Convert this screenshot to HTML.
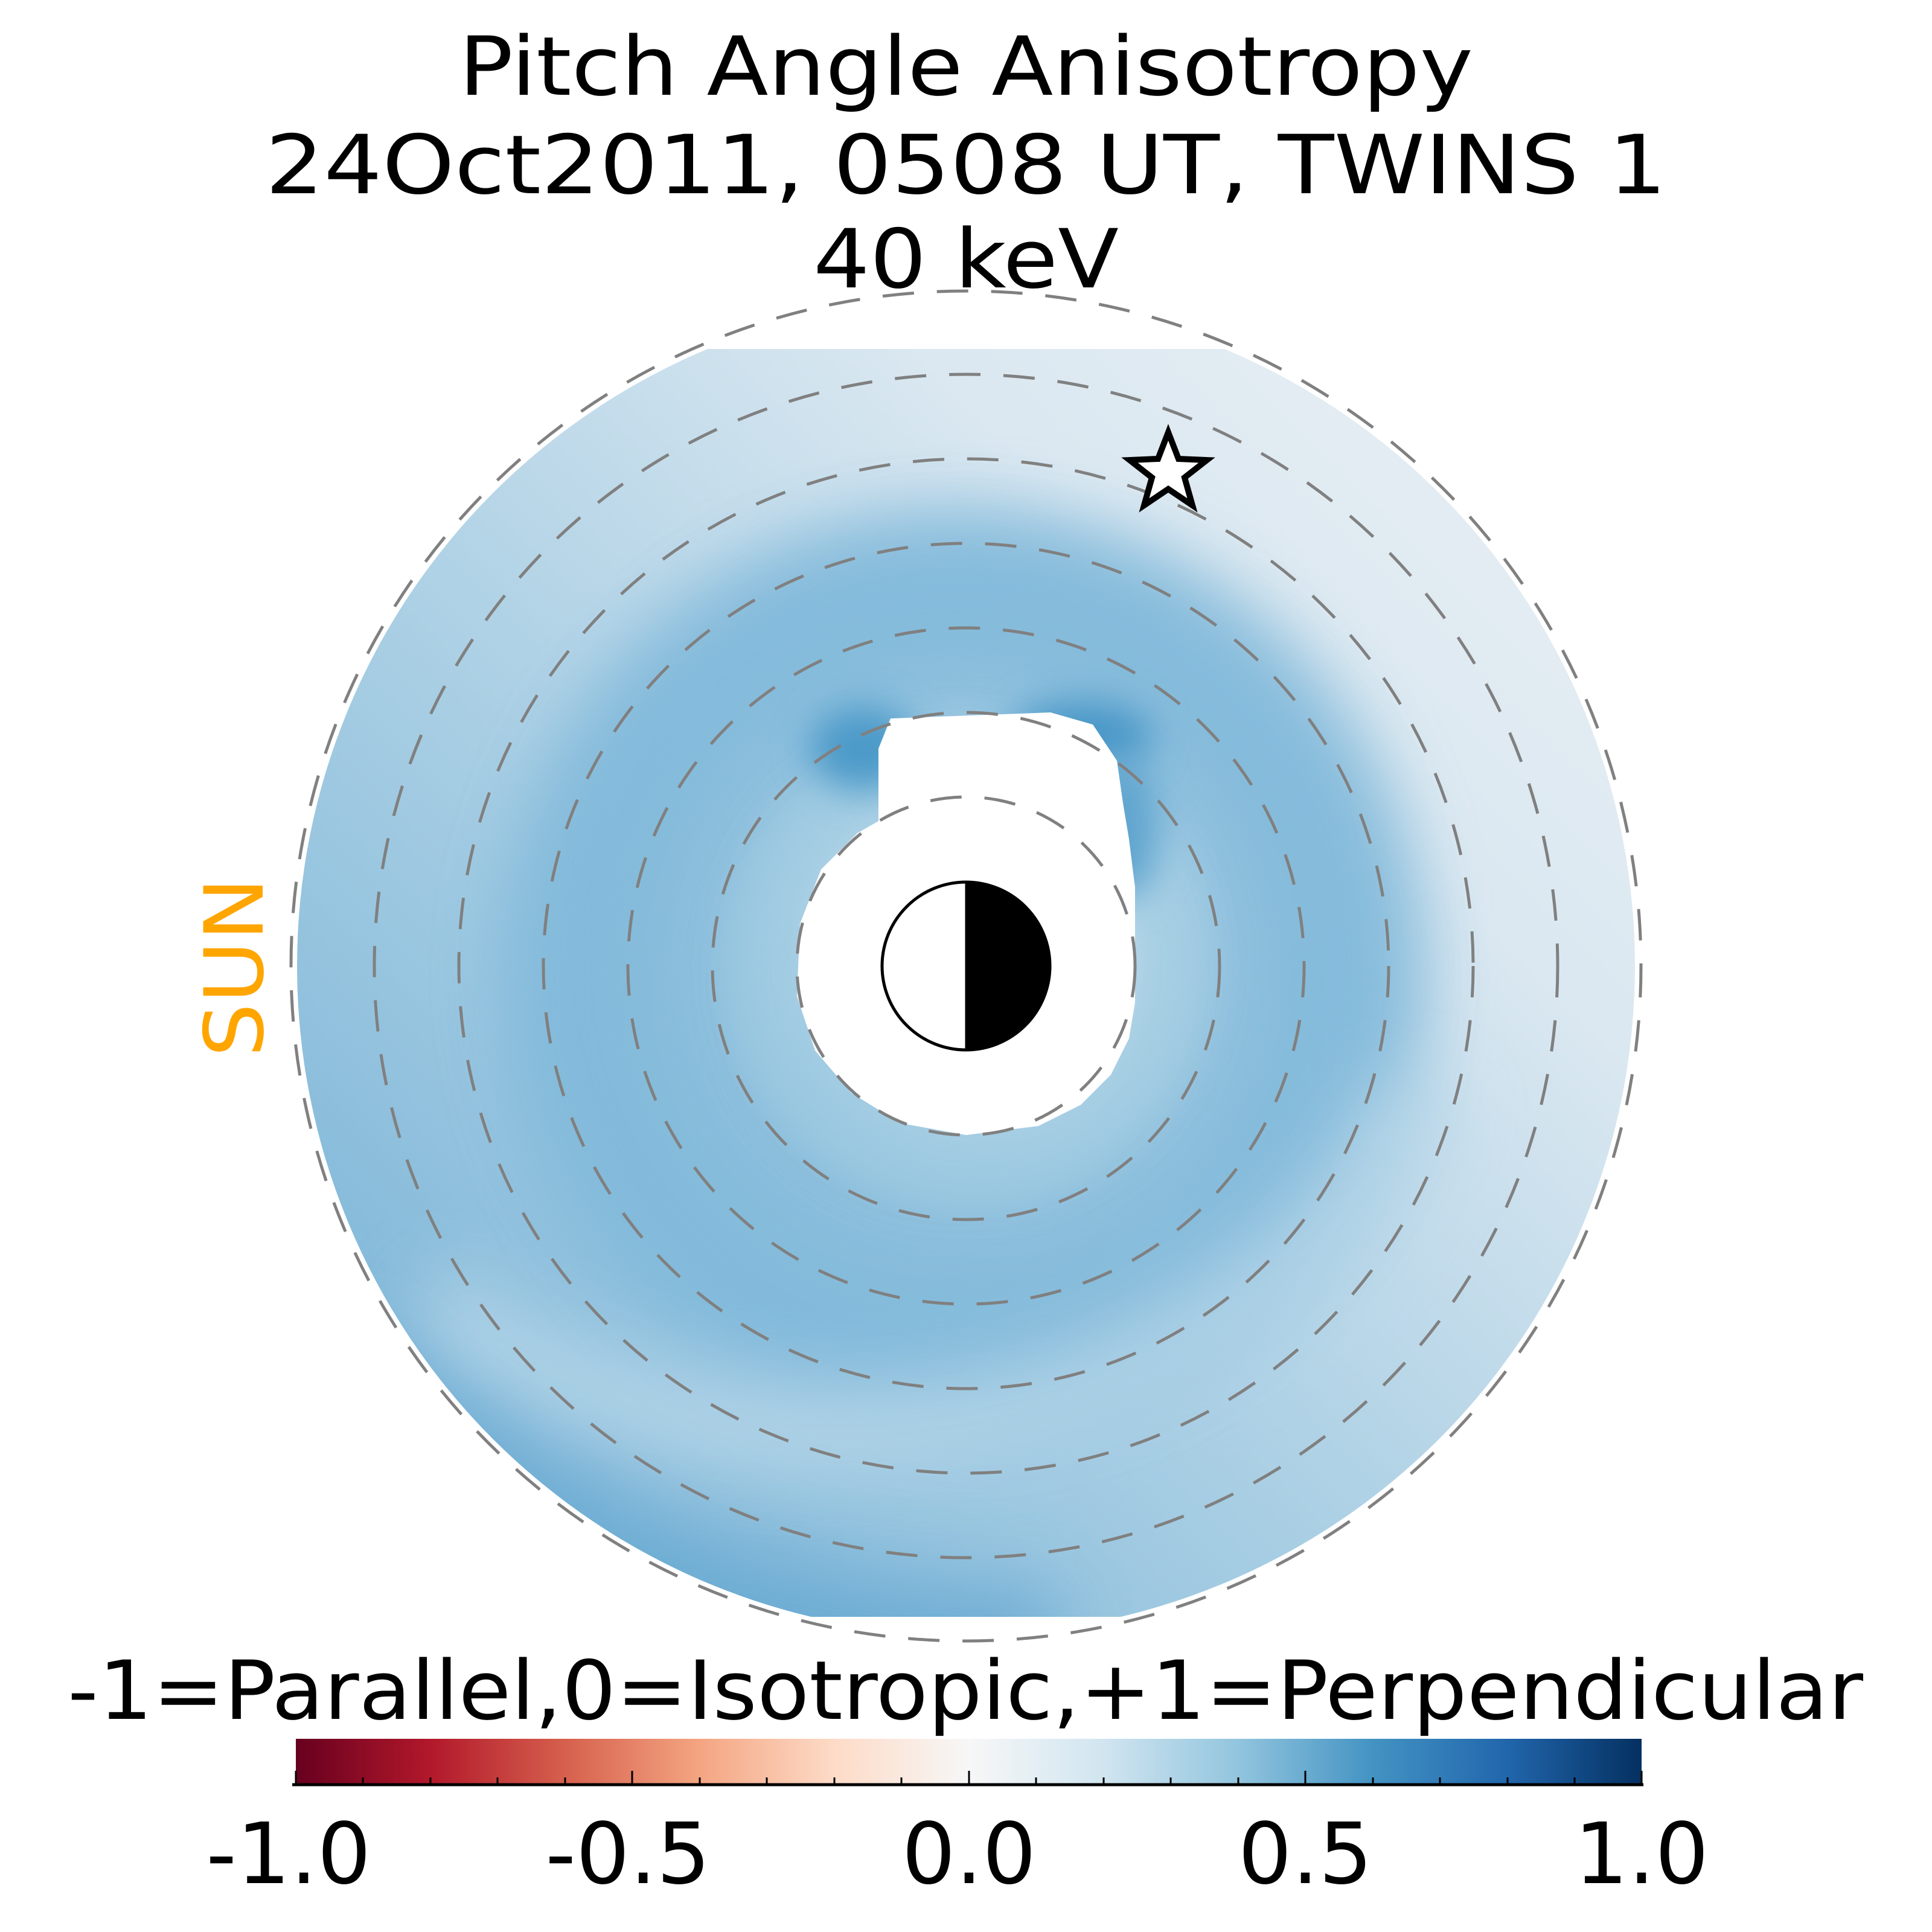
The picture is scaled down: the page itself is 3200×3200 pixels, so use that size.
<!DOCTYPE html>
<html><head><meta charset="utf-8"><style>html,body{margin:0;padding:0;background:#fff}svg{display:block}</style></head>
<body>
<svg xmlns="http://www.w3.org/2000/svg" width="3200" height="3200" viewBox="0 0 3200 3200" font-family="'DejaVu Sans','Liberation Sans',sans-serif">
<defs>
<linearGradient id="base" x1="1" y1="0" x2="0" y2="1">
<stop offset="0" stop-color="#eef2f5"/>
<stop offset="0.3" stop-color="#dbe8f1"/>
<stop offset="0.6" stop-color="#a6cde3"/>
<stop offset="1" stop-color="#6aabd3"/>
</linearGradient>
<linearGradient id="cb" x1="0" y1="0" x2="1" y2="0">
<stop offset="0" stop-color="#67001f"/>
<stop offset="0.1" stop-color="#b2182b"/>
<stop offset="0.2" stop-color="#d6604d"/>
<stop offset="0.3" stop-color="#f4a582"/>
<stop offset="0.4" stop-color="#fddbc7"/>
<stop offset="0.5" stop-color="#f7f7f7"/>
<stop offset="0.6" stop-color="#d1e5f0"/>
<stop offset="0.7" stop-color="#92c5de"/>
<stop offset="0.8" stop-color="#4393c3"/>
<stop offset="0.9" stop-color="#2166ac"/>
<stop offset="1" stop-color="#053061"/>
</linearGradient>
<clipPath id="clip"><circle cx="1600" cy="1600" r="1108"/></clipPath>
<clipPath id="clip2"><rect x="0" y="578" width="3200" height="2100"/></clipPath>
<filter id="b1" x="-50%" y="-50%" width="200%" height="200%"><feGaussianBlur stdDeviation="60"/></filter>
<filter id="b2" x="-50%" y="-50%" width="200%" height="200%"><feGaussianBlur stdDeviation="30"/></filter>
</defs>
<rect width="3200" height="3200" fill="#fff"/>
<g clip-path="url(#clip2)"><g clip-path="url(#clip)">
<rect x="400" y="400" width="2400" height="2400" fill="url(#base)"/>
<circle cx="1600" cy="1600" r="560" fill="none" stroke="#86bcdb" stroke-width="380" opacity="0.9" filter="url(#b1)"/>
<circle cx="1580" cy="1620" r="640" fill="none" stroke="#7fb8da" stroke-width="200" opacity="0.6" filter="url(#b1)"/>
<circle cx="1600" cy="1600" r="330" fill="none" stroke="#9ccae1" stroke-width="120" opacity="0.6" filter="url(#b2)"/>
<path d="M700 2150 Q1200 2500 1800 2300 Q2250 2100 2350 1800" fill="none" stroke="#b8d7e9" stroke-width="150" opacity="0.8" filter="url(#b1)"/>
<path d="M550 2250 Q1000 2750 1750 2720" fill="none" stroke="#68a9d2" stroke-width="180" opacity="0.85" filter="url(#b1)"/>
<ellipse cx="1430" cy="1240" rx="90" ry="70" fill="#4c9ac9" filter="url(#b2)"/>
<ellipse cx="1790" cy="1220" rx="120" ry="60" fill="#4a97c8" filter="url(#b2)"/>
<ellipse cx="1860" cy="1370" rx="60" ry="120" fill="#5fa4cf" filter="url(#b2)"/>
</g></g>
<path d="M1475 1190 L1740 1180 L1810 1200 L1850 1260 L1860 1330 L1870 1390 L1880 1470 L1880 1660 L1870 1720 L1840 1780 L1790 1830 L1720 1865 L1600 1880 L1490 1860 L1410 1810 L1350 1740 L1320 1650 L1325 1530 L1360 1440 L1420 1380 L1455 1360 L1455 1240 Z" fill="#fff"/>
<g fill="none" stroke="#808080" stroke-width="5" stroke-dasharray="52 38">
<circle cx="1600" cy="1600" r="280"/>
<circle cx="1600" cy="1600" r="420"/>
<circle cx="1600" cy="1600" r="560"/>
<circle cx="1600" cy="1600" r="700"/>
<circle cx="1600" cy="1600" r="840"/>
<circle cx="1600" cy="1600" r="980"/>
<circle cx="1600" cy="1600" r="1118"/>
</g>
<path d="M1600 1459 A141 141 0 0 1 1600 1741 Z" fill="#000"/>
<circle cx="1600" cy="1600" r="139" fill="none" stroke="#000" stroke-width="5"/>
<line x1="1600" y1="1459" x2="1600" y2="1741" stroke="#000" stroke-width="3"/>
<polygon points="1935,716 1952,760 1999,762 1962,791 1975,837 1935,810 1895,837 1908,791 1871,762 1918,760" fill="#fff" stroke="#000" stroke-width="10" stroke-linejoin="miter"/>
<g fill="#000" text-anchor="middle" font-size="135" style="white-space:pre">
<text x="1600" y="157" textLength="1680" lengthAdjust="spacingAndGlyphs">Pitch Angle Anisotropy</text>
<text x="1600" y="320" textLength="2321" lengthAdjust="spacingAndGlyphs">24Oct2011, 0508 UT,  TWINS 1</text>
<text x="1600" y="476" textLength="506" lengthAdjust="spacingAndGlyphs">40 keV</text>
<text x="1599" y="2847" textLength="2974" lengthAdjust="spacingAndGlyphs">-1=Parallel,0=Isotropic,+1=Perpendicular</text>
</g>
<text transform="translate(435,1602) rotate(-90)" text-anchor="middle" font-size="135" fill="#ffa500" textLength="298" lengthAdjust="spacingAndGlyphs">SUN</text>
<rect x="490" y="2880" width="2229" height="74" fill="url(#cb)"/>
<line x1="484" y1="2956" x2="2722" y2="2956" stroke="#000" stroke-width="5"/>
<g stroke="#000" stroke-width="3">
<line x1="490" y1="2956" x2="490" y2="2933"/><line x1="601" y1="2956" x2="601" y2="2944"/><line x1="713" y1="2956" x2="713" y2="2944"/><line x1="824" y1="2956" x2="824" y2="2944"/><line x1="936" y1="2956" x2="936" y2="2944"/>
<line x1="1047" y1="2956" x2="1047" y2="2933"/><line x1="1159" y1="2956" x2="1159" y2="2944"/><line x1="1270" y1="2956" x2="1270" y2="2944"/><line x1="1382" y1="2956" x2="1382" y2="2944"/><line x1="1493" y1="2956" x2="1493" y2="2944"/>
<line x1="1605" y1="2956" x2="1605" y2="2933"/><line x1="1716" y1="2956" x2="1716" y2="2944"/><line x1="1828" y1="2956" x2="1828" y2="2944"/><line x1="1939" y1="2956" x2="1939" y2="2944"/><line x1="2051" y1="2956" x2="2051" y2="2944"/>
<line x1="2162" y1="2956" x2="2162" y2="2933"/><line x1="2274" y1="2956" x2="2274" y2="2944"/><line x1="2385" y1="2956" x2="2385" y2="2944"/><line x1="2497" y1="2956" x2="2497" y2="2944"/><line x1="2608" y1="2956" x2="2608" y2="2944"/>
<line x1="2719" y1="2956" x2="2719" y2="2933"/>
</g>
<g fill="#000" text-anchor="middle" font-size="140">
<text x="478" y="3119">-1.0</text>
<text x="1040" y="3119">-0.5</text>
<text x="1605" y="3119">0.0</text>
<text x="2162" y="3119">0.5</text>
<text x="2719" y="3119">1.0</text>
</g>
</svg>
</body></html>
